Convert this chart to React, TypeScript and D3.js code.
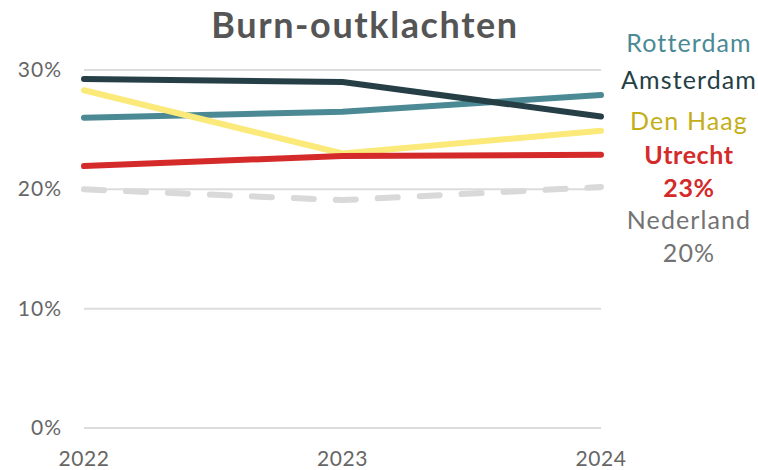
import React from "react";
import * as d3 from "d3";

const years = ["2022", "2023", "2024"];
const rotterdam = [26.0, 26.5, 27.9];
const amsterdam = [29.25, 29.0, 26.1];
const denHaag = [28.3, 23.0, 24.9];
const utrecht = [21.95, 22.8, 22.9];
const nederland = [20.0, 19.1, 20.2];
const yTicks = [0, 10, 20, 30];

const W = 758;
const H = 470;
const margin = { top: 70, right: 157, bottom: 42, left: 84 };

const seriesList = [
  { name: "nederland", values: nederland, color: "#d9d9d9", dash: "20,22" },
  { name: "rotterdam", values: rotterdam, color: "#4b8a95" },
  { name: "amsterdam", values: amsterdam, color: "#263f47" },
  { name: "denHaag", values: denHaag, color: "#fbe97a" },
  { name: "utrecht", values: utrecht, color: "#d42a2a" },
];

const labels = [
  { text: "Rotterdam", y: 52, color: "#4b8a95", bold: false },
  { text: "Amsterdam", y: 89, color: "#263f47", bold: false },
  { text: "Den Haag", y: 130, color: "#c4ae18", bold: false },
  { text: "Utrecht", y: 164, color: "#d42a2a", bold: true },
  { text: "23%", y: 197, color: "#d42a2a", bold: true },
  { text: "Nederland", y: 229, color: "#737373", bold: false },
  { text: "20%", y: 262, color: "#737373", bold: false },
];

export default function App() {
  const ref = React.useRef<SVGSVGElement>(null);

  React.useEffect(() => {
    document.body.style.margin = "0";
    const x = d3
      .scalePoint()
      .domain(years)
      .range([margin.left, W - margin.right]);
    const y = d3
      .scaleLinear()
      .domain([0, 30])
      .range([H - margin.bottom, margin.top]);

    const svg = d3.select(ref.current);
    svg.selectAll("*").remove();
    const font = "Lato, 'Noto Sans', sans-serif";

    svg
      .append("text")
      .attr("x", 365)
      .attr("y", 38)
      .attr("text-anchor", "middle")
      .attr("font-family", font)
      .attr("font-weight", "bold")
      .attr("font-size", 36)
      .attr("letter-spacing", 1.6)
      .attr("fill", "#555555")
      .text("Burn-outklachten");

    // gridlines
    svg
      .append("g")
      .selectAll("line")
      .data(yTicks)
      .join("line")
      .attr("x1", margin.left)
      .attr("x2", W - margin.right)
      .attr("y1", (d) => y(d))
      .attr("y2", (d) => y(d))
      .attr("stroke", "#dcdcdc")
      .attr("stroke-width", 2);

    svg
      .append("g")
      .selectAll("text")
      .data(yTicks)
      .join("text")
      .attr("x", 62)
      .attr("y", (d) => y(d) + 7)
      .attr("text-anchor", "end")
      .attr("font-family", font)
      .attr("font-size", 21)
      .attr("letter-spacing", 1)
      .attr("fill", "#666666")
      .text((d) => d + "%");

    svg
      .append("g")
      .selectAll("text")
      .data(years)
      .join("text")
      .attr("x", (d) => x(d)!)
      .attr("y", 466)
      .attr("text-anchor", "middle")
      .attr("font-family", font)
      .attr("font-size", 21)
      .attr("letter-spacing", 0.6)
      .attr("fill", "#666666")
      .text((d) => d);

    const line = d3
      .line<number>()
      .x((d, i) => x(years[i])!)
      .y((d) => y(d));

    seriesList.forEach((s) => {
      svg
        .append("path")
        .datum(s.values)
        .attr("fill", "none")
        .attr("stroke", s.color)
        .attr("stroke-width", 6)
        .attr("stroke-linejoin", "round")
        .attr("stroke-linecap", "round")
        .attr("stroke-dasharray", s.dash || null)
        .attr("d", line);
    });

    svg
      .append("g")
      .selectAll("text")
      .data(labels)
      .join("text")
      .attr("x", 689)
      .attr("y", (d) => d.y)
      .attr("text-anchor", "middle")
      .attr("font-family", font)
      .attr("font-size", 25)
      .attr("letter-spacing", (d) => (d.bold ? 0.6 : 1.1))
      .attr("font-weight", (d) => (d.bold ? "bold" : "normal"))
      .attr("fill", (d) => d.color)
      .text((d) => d.text);
  }, []);

  return <svg ref={ref} width={W} height={H} style={{ display: "block" }} />;
}
